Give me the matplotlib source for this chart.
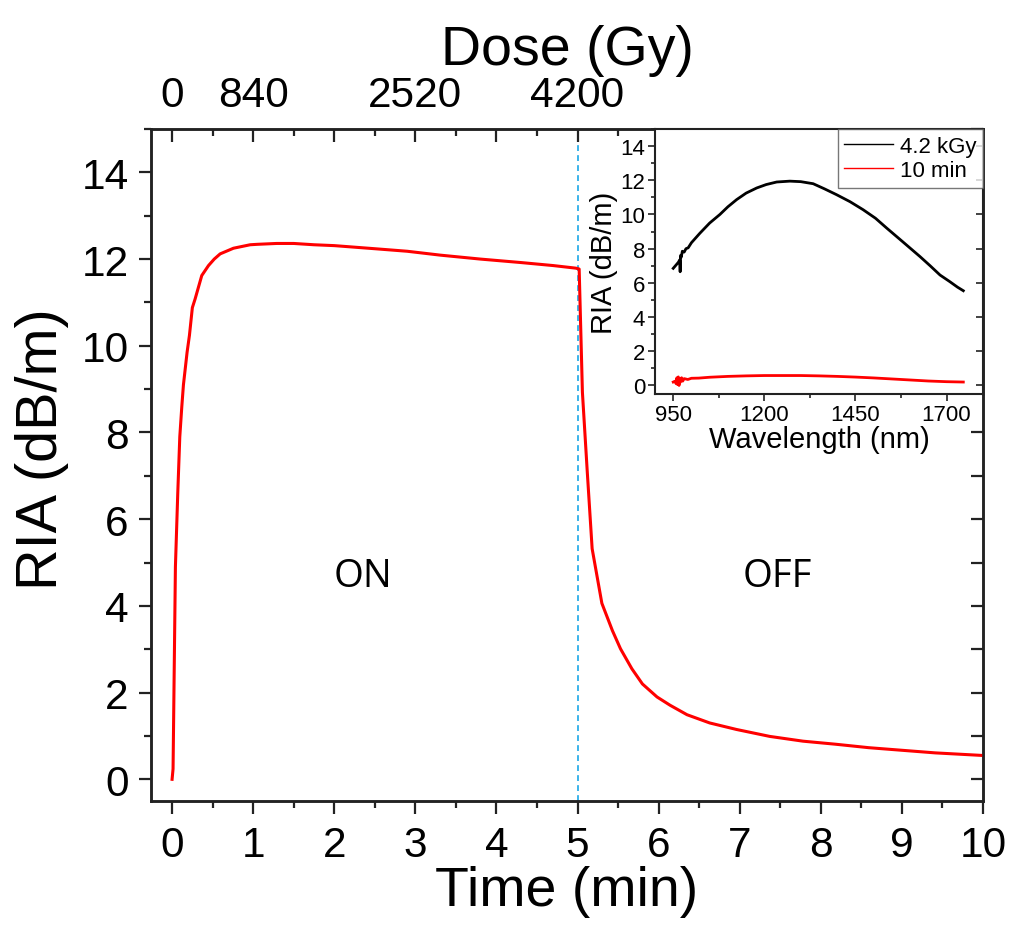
import matplotlib
matplotlib.use("Agg")
import matplotlib.pyplot as plt
from matplotlib.ticker import MultipleLocator, FixedLocator, FixedFormatter

plt.rcParams['font.family'] = ['Liberation Sans', 'DejaVu Sans']

# ---------------- data ----------------
time_min = [0.0, 0.012, 0.041, 0.07, 0.095, 0.12, 0.14, 0.185, 0.214, 0.25, 0.284,
            0.366, 0.449, 0.52, 0.593, 0.757, 0.963, 1.05, 1.29, 1.5, 1.75, 2.0, 2.49,
            2.9, 3.31, 3.8, 4.3, 4.7, 4.98, 5.02, 5.06, 5.12, 5.18, 5.3, 5.43, 5.53,
            5.67, 5.8, 5.98, 6.14, 6.35, 6.63, 6.96, 7.37, 7.78, 8.18, 8.59, 9.0,
            9.41, 10.0]
ria_dbm = [0.0, 0.24, 4.9, 6.6, 7.9, 8.6, 9.1, 9.85, 10.24, 10.88, 11.08,
           11.62, 11.85, 12.0, 12.12, 12.25, 12.33, 12.34, 12.36, 12.36, 12.33, 12.31, 12.24,
           12.18, 12.09, 12.0, 11.92, 11.85, 11.79, 11.77, 8.93, 7.09, 5.32, 4.06, 3.43, 3.01,
           2.55, 2.2, 1.9, 1.71, 1.49, 1.3, 1.15, 0.99, 0.88, 0.81, 0.73, 0.67,
           0.61, 0.55]

dose_tick_pos = [0, 1, 2, 3, 4, 5, 6, 7, 8, 9, 10]
dose_tick_labels = ['0', '840', '', '2520', '', '4200', '', '', '', '', '']

wl_42kgy = [950, 958, 964, 968, 969, 970, 972, 975, 980, 985, 991, 1000, 1023, 1050,
            1078, 1100, 1124, 1150, 1179, 1205, 1234, 1270, 1300, 1334, 1365, 1398,
            1435, 1471, 1505, 1536, 1580, 1627, 1655, 1682, 1709, 1730, 1746]
ria_42kgy = [6.85, 7.05, 7.2, 7.35, 6.65, 7.6, 7.5, 7.85, 7.8, 8.0, 8.05, 8.35, 8.9, 9.5,
             10.0, 10.45, 10.87, 11.25, 11.55, 11.75, 11.9, 11.95, 11.92, 11.8, 11.5, 11.16,
             10.75, 10.28, 9.78, 9.2, 8.4, 7.54, 7.0, 6.46, 6.07, 5.75, 5.54]
wl_10min = [950, 955, 958, 960, 962, 964, 966, 968, 970, 973, 976, 980, 990, 1000, 1020,
            1050, 1100, 1150, 1200, 1250, 1300, 1350, 1400, 1450, 1500, 1550, 1600, 1650,
            1700, 1746]
ria_10min = [0.2, 0.25, 0.1, 0.45, 0.05, 0.5, 0.0, 0.4, 0.2, 0.45, 0.25, 0.4, 0.35, 0.42,
             0.43, 0.48, 0.53, 0.56, 0.58, 0.58, 0.58, 0.56, 0.53, 0.49, 0.44, 0.38, 0.32,
             0.26, 0.22, 0.2]

# ---------------- figure ----------------
W, H = 1019, 929
fig = plt.figure(figsize=(W / 100, H / 100), dpi=100)

def rect(x0, y0, x1, y1):
    return [x0 / W, 1 - y1 / H, (x1 - x0) / W, (y1 - y0) / H]

ax = fig.add_axes(rect(151, 130, 983, 802))
ax.plot(time_min, ria_dbm, color='#ff0000', lw=2.2, zorder=3)
ax.axvline(5, color='#1aa7e6', lw=1.2, dashes=(3.5, 2.5), zorder=2)

ax.set_xlim(-0.26, 10)
ax.set_ylim(-0.5, 15)
ax.xaxis.set_major_locator(MultipleLocator(1))
ax.xaxis.set_minor_locator(MultipleLocator(0.5))
ax.yaxis.set_major_locator(MultipleLocator(2))
ax.yaxis.set_minor_locator(MultipleLocator(1))
for s in ax.spines.values():
    s.set_linewidth(1.8)
    s.set_color('#222222')
ax.tick_params(axis='both', which='major', direction='out', length=9, width=1.6,
               labelsize=30.5, colors='#222222', labelcolor='black')
ax.tick_params(axis='both', which='minor', direction='out', length=5, width=1.6,
               colors='#222222')
ax.tick_params(axis='x', which='major', pad=8)
ax.tick_params(axis='y', which='major', pad=7)
ax.set_xlabel('Time (min)', fontsize=40, labelpad=0)
ax.set_ylabel('RIA (dB/m)', fontsize=41.5)
ax.yaxis.set_label_coords(-0.098, 0.525)

ax.text(2.35, 4.68, 'ON', fontsize=27.5, family='Open Sans', ha='center', va='center')
ax.text(7.46, 4.68, 'OFF', fontsize=27.5, family='Open Sans', ha='center', va='center')

# right inward ticks
axr = ax.secondary_yaxis('right')
axr.yaxis.set_major_locator(MultipleLocator(1))
axr.tick_params(direction='in', length=9, width=1.6, labelright=False, colors='#222222')

# top dose axis
axt = ax.twiny()
axt.set_xlim(ax.get_xlim())
axt.xaxis.set_major_locator(FixedLocator(dose_tick_pos))
axt.xaxis.set_major_formatter(FixedFormatter(dose_tick_labels))
axt.xaxis.set_minor_locator(MultipleLocator(0.5))
axt.tick_params(axis='x', which='major', direction='in', length=9, width=1.6,
                labelsize=30.5, pad=10, colors='#222222', labelcolor='black')
axt.tick_params(axis='x', which='minor', direction='in', length=5, width=1.6,
                colors='#222222')
axt.set_xlabel('Dose (Gy)', fontsize=40, labelpad=8)
for s in axt.spines.values():
    s.set_linewidth(1.8)
    s.set_color('#222222')

# ---------------- inset ----------------
ins = fig.add_axes(rect(655, 130, 983, 395))
ins.plot(wl_42kgy, ria_42kgy, color='black', lw=2.0, label='4.2 kGy')
ins.plot(wl_10min, ria_10min, color='#ff0000', lw=2.0, label='10 min')
ins.set_xlim(900, 1800)
ins.set_ylim(-0.5, 15)
ins.xaxis.set_major_locator(FixedLocator([950, 1200, 1450, 1700]))
ins.xaxis.set_minor_locator(FixedLocator([1075, 1325, 1575]))
ins.yaxis.set_major_locator(MultipleLocator(2))
ins.yaxis.set_minor_locator(MultipleLocator(1))
for s in ins.spines.values():
    s.set_linewidth(1.5)
    s.set_color('#222222')
ins.tick_params(axis='both', which='major', direction='out', length=5, width=1.2,
                labelsize=16, pad=2, colors='#222222', labelcolor='black')
ins.tick_params(axis='both', which='minor', direction='out', length=3, width=1.2,
                colors='#222222')
ins_r = ins.secondary_yaxis('right')
ins_r.yaxis.set_major_locator(MultipleLocator(2))
ins_r.tick_params(direction='in', length=5, width=1.2, labelright=False, colors='#222222')
ins.set_xlabel('Wavelength (nm)', fontsize=21, labelpad=0)
ins.set_ylabel('RIA (dB/m)', fontsize=21, labelpad=2)
leg = ins.legend(loc='upper right', bbox_to_anchor=(1, 1), borderaxespad=0,
                 fontsize=16, frameon=True, fancybox=False, handlelength=2.2,
                 handletextpad=0.3, borderpad=0.3, labelspacing=0.15)
leg.get_frame().set_edgecolor('#555555')
leg.get_frame().set_linewidth(1.0)
for ln in leg.get_lines():
    ln.set_linewidth(1.0)

fig.savefig('out.png', dpi=100)
